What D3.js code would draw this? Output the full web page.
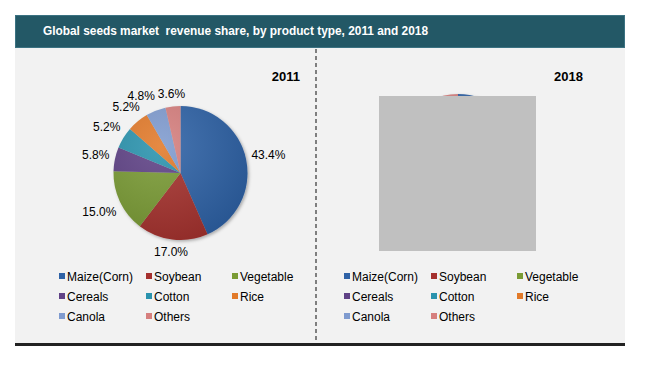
<!DOCTYPE html>
<html>
<head>
  <meta charset="utf-8">
  <title>Global seeds market revenue share</title>
  <style>
    body { margin: 0; background: #fff; }
    text { font-family: "Liberation Sans", Arial, sans-serif; }
  </style>
</head>
<body>
  <svg id="chart"></svg>

  <script src="https://d3js.org/d3.v7.min.js"></script>
  <script>
    // Data
    const products = ["Maize(Corn)", "Soybean", "Vegetable", "Cereals", "Cotton", "Rice", "Canola", "Others"];
    const share2011 = [43.4, 17.0, 15.0, 5.8, 5.2, 5.2, 4.8, 3.6];
    // the 2018 pie is covered by a grey box, only its top edge shows -> same split assumed
    const share2018 = [43.4, 17.0, 15.0, 5.8, 5.2, 5.2, 4.8, 3.6];
    const years = ["2011", "2018"];
    const colors = ["#2f62a6", "#a5302e", "#7a9b34", "#5f4286", "#2a93ae", "#e27a29", "#7f9bcf", "#d67f7e"];

    const width = 650, height = 374;

    const svg = d3.select("#chart")
      .attr("width", width)
      .attr("height", height);

    // gradients / shadow for the excel-ish look
    const defs = svg.append("defs");
    const shade = defs.append("radialGradient")
      .attr("id", "shade")
      .attr("cx", "35%").attr("cy", "30%").attr("r", "75%");
    shade.append("stop").attr("offset", "0%").attr("stop-color", "#fff").attr("stop-opacity", 0.12);
    shade.append("stop").attr("offset", "100%").attr("stop-color", "#000").attr("stop-opacity", 0.12);
    const shadow = defs.append("filter").attr("id", "shadow")
      .attr("x", "-20%").attr("y", "-20%").attr("width", "140%").attr("height", "140%");
    shadow.append("feDropShadow")
      .attr("dx", 1.5).attr("dy", 1.5).attr("stdDeviation", 1.5)
      .attr("flood-color", "#000").attr("flood-opacity", 0.3);

    // frame
    svg.append("rect")
      .attr("x", 15).attr("y", 48).attr("width", 610).attr("height", 296)
      .attr("fill", "#f2f2f2");
    svg.append("rect")
      .attr("x", 15.5).attr("y", 15.5).attr("width", 609).attr("height", 32)
      .attr("fill", "#235866").attr("stroke", "#3b7282").attr("stroke-width", 1);
    svg.append("text")
      .attr("x", 43).attr("y", 35)
      .attr("fill", "#fff")
      .attr("font-size", "12.5px")
      .attr("font-weight", "bold")
      .attr("textLength", 385)
      .attr("lengthAdjust", "spacingAndGlyphs")
      .style("white-space", "pre")
      .text("Global seeds market  revenue share, by product type, 2011 and 2018");

    svg.append("line")
      .attr("x1", 316).attr("x2", 316).attr("y1", 49).attr("y2", 342)
      .attr("stroke", "#7f7f7f").attr("stroke-width", 2)
      .attr("stroke-dasharray", "4,3");
    svg.append("line")
      .attr("x1", 15).attr("x2", 625).attr("y1", 344.5).attr("y2", 344.5)
      .attr("stroke", "#222").attr("stroke-width", 3);

    // year labels
    svg.selectAll(".year")
      .data(years)
      .enter().append("text")
      .attr("class", "year")
      .attr("x", (d, i) => i === 0 ? 300 : 583)
      .attr("y", 81)
      .attr("text-anchor", "end")
      .attr("font-size", "13px")
      .attr("font-weight", "bold")
      .attr("fill", "#000")
      .text(d => d);

    const radius = 67;
    const pie = d3.pie().sort(null).value(d => d);
    const arc = d3.arc().innerRadius(0).outerRadius(radius);

    function drawPie(values, cx, cy, withLabels) {
      const g = svg.append("g").attr("transform", `translate(${cx},${cy})`);
      const slices = pie(values);

      g.append("g").attr("filter", "url(#shadow)")
        .selectAll("path")
        .data(slices)
        .enter().append("path")
        .attr("d", arc)
        .attr("fill", (d, i) => colors[i]);

      g.append("circle").attr("r", radius).attr("fill", "url(#shade)");

      if (!withLabels) return;

      // labels outside the slice, pushed out by half their box
      const r0 = 72;
      const pos = [];
      const labels = g.selectAll(".lbl")
        .data(slices)
        .enter().append("text")
        .attr("class", "lbl")
        .attr("font-size", "12px")
        .attr("fill", "#000")
        .attr("text-anchor", "middle")
        .text(d => d.data.toFixed(1) + "%")
        .each(function (d, i) {
          const a = (d.startAngle + d.endAngle) / 2;
          const w = this.getComputedTextLength();
          const s = Math.sin(a), c = Math.cos(a);
          const r = r0 + (w / 2) * Math.abs(s) + 6 * Math.abs(c);
          pos[i] = { x: r * s, y: -r * c, w: w, left: a > Math.PI };
        });

      // crowded small slices on the upper left: push the earlier label left
      for (let i = pos.length - 2; i >= 0; i--) {
        const p = pos[i], q = pos[i + 1];
        if (!p.left || !q.left) continue;
        const minDx = (p.w + q.w) / 2 + 3;
        if (Math.abs(p.y - q.y) < 11 && q.x - p.x < minDx) p.x = q.x - minDx;
      }

      labels
        .attr("x", (d, i) => pos[i].x)
        .attr("y", (d, i) => pos[i].y + 4);
    }

    drawPie(share2011, 180.5, 173, true);
    drawPie(share2018, 458, 161, false);

    // cover box over the 2018 pie
    svg.append("rect")
      .attr("x", 379).attr("y", 96).attr("width", 157).attr("height", 155)
      .attr("fill", "#c0c0c0");

    // legends
    const colX = [0, 87, 173];
    const rowY = d3.scalePoint().domain([0, 1, 2]).range([276, 316]);
    [59, 344].forEach(x0 => {
      const items = svg.append("g").selectAll("g")
        .data(products)
        .enter().append("g")
        .attr("transform", (d, i) => `translate(${x0 + colX[i % 3]},${rowY(Math.floor(i / 3))})`);
      items.append("rect")
        .attr("x", 0).attr("y", -3).attr("width", 6).attr("height", 6)
        .attr("fill", (d, i) => colors[i]);
      items.append("text")
        .attr("x", 8).attr("y", 4.5)
        .attr("font-size", "12px")
        .attr("fill", "#000")
        .text(d => d);
    });
  </script>
</body>
</html>
